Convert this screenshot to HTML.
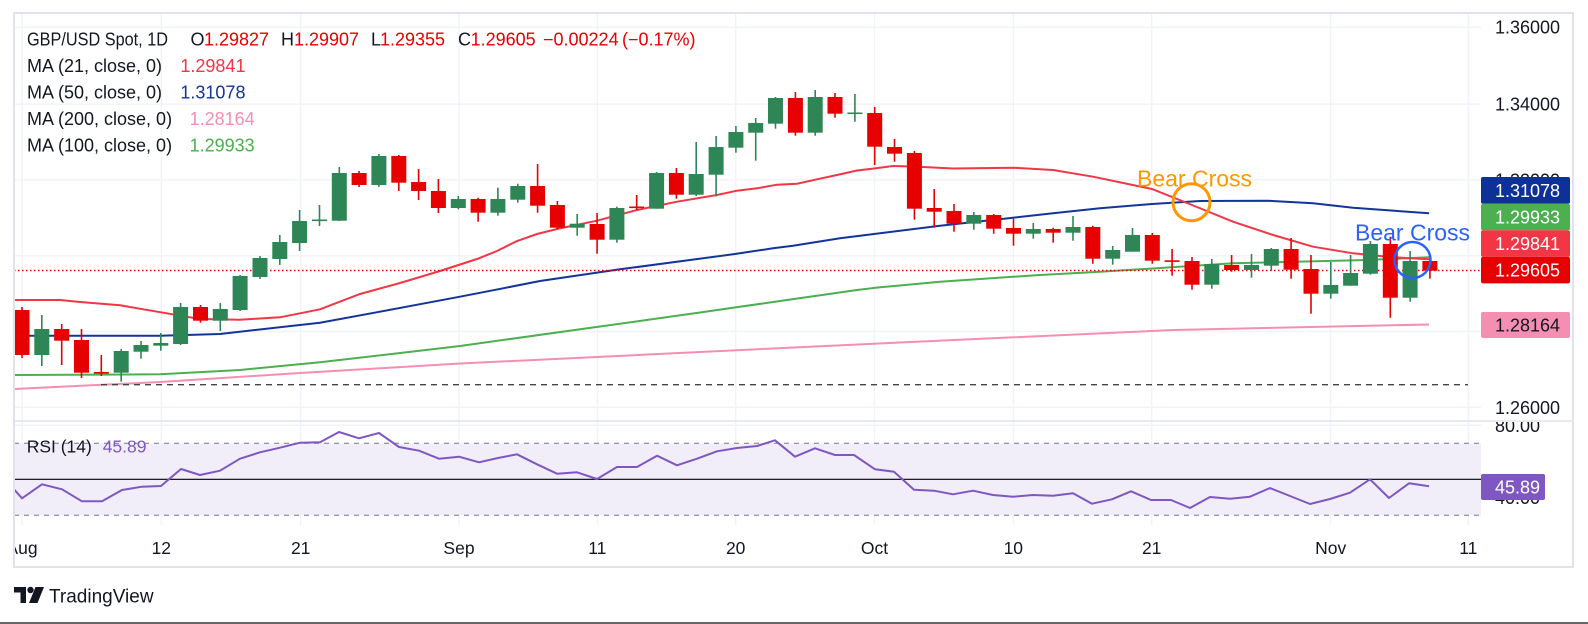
<!DOCTYPE html>
<html>
<head>
<meta charset="utf-8">
<style>
html,body{margin:0;padding:0;background:#fff;}
svg{display:block;}
text{font-family:"Liberation Sans",Arial,sans-serif;}
</style>
</head>
<body>
<svg width="1588" height="624" viewBox="0 0 1588 624" xmlns="http://www.w3.org/2000/svg">
<defs>
<clipPath id="mainclip"><rect x="14" y="13" width="1467" height="408"/></clipPath>
<clipPath id="rsiclip"><rect x="14" y="421" width="1467" height="104"/></clipPath>
<clipPath id="timeclip"><rect x="15" y="525" width="1558" height="42"/></clipPath>
<clipPath id="rsiaxis"><rect x="1481" y="422" width="92" height="103"/></clipPath>
</defs>
<rect width="1588" height="624" fill="#fff"/>

<!-- horizontal grid main -->
<g stroke="#f0f3fa" stroke-width="1.5">
<line x1="14" y1="27.2" x2="1481" y2="27.2"/>
<line x1="14" y1="104.1" x2="1481" y2="104.1"/>
<line x1="14" y1="179.9" x2="1481" y2="179.9"/>
<line x1="14" y1="255.7" x2="1481" y2="255.7"/>
<line x1="14" y1="331.5" x2="1481" y2="331.5"/>
<line x1="14" y1="407.3" x2="1481" y2="407.3"/>
<line x1="14" y1="425.3" x2="1481" y2="425.3"/>
<line x1="14" y1="497.3" x2="1481" y2="497.3"/>
</g>
<!-- vertical grid -->
<g stroke="#f0f3fa" stroke-width="1.5">
<line x1="22" y1="13" x2="22" y2="525"/>
<line x1="161.3" y1="13" x2="161.3" y2="525"/>
<line x1="300.7" y1="13" x2="300.7" y2="525"/>
<line x1="459" y1="13" x2="459" y2="525"/>
<line x1="597.3" y1="13" x2="597.3" y2="525"/>
<line x1="735.7" y1="13" x2="735.7" y2="525"/>
<line x1="874.5" y1="13" x2="874.5" y2="525"/>
<line x1="1013.3" y1="13" x2="1013.3" y2="525"/>
<line x1="1151.7" y1="13" x2="1151.7" y2="525"/>
<line x1="1330.7" y1="13" x2="1330.7" y2="525"/>
<line x1="1468.3" y1="13" x2="1468.3" y2="525"/>
</g>

<!-- main pane -->
<g clip-path="url(#mainclip)">
<polyline fill="none" stroke="#f48fb1" stroke-width="2" points="14,389 160,382 300,373 460,363.5 700,352 900,342.5 1173,330 1429,324.5"/>
<polyline fill="none" stroke="#4caf50" stroke-width="2" points="14,375 160,374.3 240,370 320,362.3 460,346 600,326.5 700,312.5 780,301 857,290 880,287.3 940,281.7 1040,275 1100,271.7 1140,269.3 1233,263.3 1367,260 1429,257.3"/>
<polyline fill="none" stroke="#12349b" stroke-width="2" points="14,335.7 100,335.7 160,335.7 220,334 320,322.7 380,311.7 460,296.7 498,289.3 540,281 620,269.3 733,254.3 773,248.3 793,245.7 840,238.2 874,234 940,225.7 1013,217.7 1053,213.3 1100,208.3 1152,204 1200,201 1267,200.7 1313,203.3 1353,207.7 1429,213.3"/>
<polyline fill="none" stroke="#f23645" stroke-width="2" points="14,300 60,300 80,302 120,305.3 161,312.3 200,319 240,319.7 280,317.3 320,309.3 360,294 400,283 440,271 477,259 497,251 517,241 537,234 557,229 597,220.7 637,210 677,201.7 717,195 737,190.7 757,188.3 777,184.7 797,183.7 817,179.3 837,175 857,170.5 874,168.5 893,166 913,166.5 953,168.5 1013,167.7 1053,170 1093,176.7 1140,186.5 1152,189 1192,205 1233,221.7 1273,235 1313,246.7 1353,253.3 1393,257.3 1429,259.3"/>
<line x1="101" y1="384.7" x2="1468" y2="384.7" stroke="#444" stroke-width="1.4" stroke-dasharray="6 5"/>
<line x1="14" y1="270.5" x2="1481" y2="270.5" stroke="#e60000" stroke-width="1.5" stroke-dasharray="1.5 2.5"/>

<g stroke="#e60000" stroke-width="1.6">
<line x1="22.0" y1="307" x2="22.0" y2="358"/>
<line x1="61.7" y1="324" x2="61.7" y2="365"/>
<line x1="81.5" y1="329" x2="81.5" y2="378"/>
<line x1="101.3" y1="355" x2="101.3" y2="376"/>
<line x1="200.5" y1="305" x2="200.5" y2="322.7"/>
<line x1="359.1" y1="171" x2="359.1" y2="187"/>
<line x1="398.8" y1="155" x2="398.8" y2="191"/>
<line x1="418.6" y1="169" x2="418.6" y2="200"/>
<line x1="438.4" y1="179" x2="438.4" y2="213"/>
<line x1="478.1" y1="197.7" x2="478.1" y2="221.7"/>
<line x1="537.6" y1="164" x2="537.6" y2="212.7"/>
<line x1="557.4" y1="201" x2="557.4" y2="229.3"/>
<line x1="597.1" y1="213" x2="597.1" y2="253.7"/>
<line x1="636.7" y1="195" x2="636.7" y2="210.3"/>
<line x1="676.4" y1="168" x2="676.4" y2="198.7"/>
<line x1="795.4" y1="92" x2="795.4" y2="135.7"/>
<line x1="835.0" y1="93" x2="835.0" y2="117.7"/>
<line x1="874.7" y1="107" x2="874.7" y2="165"/>
<line x1="894.5" y1="139" x2="894.5" y2="161.7"/>
<line x1="914.4" y1="151" x2="914.4" y2="219.7"/>
<line x1="934.2" y1="189" x2="934.2" y2="227.7"/>
<line x1="954.0" y1="204" x2="954.0" y2="231.7"/>
<line x1="993.7" y1="214" x2="993.7" y2="233.7"/>
<line x1="1013.5" y1="218.7" x2="1013.5" y2="245.7"/>
<line x1="1053.2" y1="227.7" x2="1053.2" y2="242.7"/>
<line x1="1092.8" y1="225.7" x2="1092.8" y2="263.7"/>
<line x1="1152.3" y1="233" x2="1152.3" y2="263.7"/>
<line x1="1172.1" y1="249" x2="1172.1" y2="275.7"/>
<line x1="1192.0" y1="257" x2="1192.0" y2="289.7"/>
<line x1="1231.6" y1="255" x2="1231.6" y2="271.7"/>
<line x1="1291.1" y1="238" x2="1291.1" y2="278.7"/>
<line x1="1311.0" y1="255" x2="1311.0" y2="313.7"/>
<line x1="1390.3" y1="236.7" x2="1390.3" y2="317.7"/>
<line x1="1429.9" y1="259" x2="1429.9" y2="278.7"/>
</g>
<g fill="#e60000">
<rect x="14.5" y="310" width="15" height="45"/>
<rect x="54.2" y="329" width="15" height="11.7"/>
<rect x="74.0" y="340" width="15" height="32.7"/>
<rect x="93.8" y="372" width="15" height="1.6"/>
<rect x="193.0" y="307" width="15" height="13.7"/>
<rect x="351.6" y="173" width="15" height="12"/>
<rect x="391.3" y="156" width="15" height="26.7"/>
<rect x="411.1" y="182" width="15" height="9"/>
<rect x="430.9" y="191" width="15" height="17"/>
<rect x="470.6" y="199" width="15" height="13.7"/>
<rect x="530.1" y="186" width="15" height="19.7"/>
<rect x="549.9" y="205" width="15" height="22.7"/>
<rect x="589.6" y="224" width="15" height="15.7"/>
<rect x="629.2" y="206.5" width="15" height="1.6"/>
<rect x="668.9" y="173" width="15" height="21.7"/>
<rect x="787.9" y="98" width="15" height="34.7"/>
<rect x="827.5" y="97" width="15" height="16.7"/>
<rect x="867.2" y="113" width="15" height="33.7"/>
<rect x="887.0" y="147" width="15" height="6.7"/>
<rect x="906.9" y="153" width="15" height="55.7"/>
<rect x="926.7" y="208" width="15" height="3.7"/>
<rect x="946.5" y="211" width="15" height="12.7"/>
<rect x="986.2" y="215" width="15" height="13.7"/>
<rect x="1006.0" y="228" width="15" height="5.7"/>
<rect x="1045.7" y="229" width="15" height="3.7"/>
<rect x="1085.3" y="227" width="15" height="31.7"/>
<rect x="1144.8" y="235" width="15" height="25.7"/>
<rect x="1164.6" y="260.3" width="15" height="1.6"/>
<rect x="1184.5" y="261" width="15" height="23.7"/>
<rect x="1224.1" y="265" width="15" height="5"/>
<rect x="1283.6" y="249" width="15" height="20.7"/>
<rect x="1303.5" y="269" width="15" height="24.7"/>
<rect x="1382.8" y="244" width="15" height="53.7"/>
<rect x="1422.4" y="261" width="15" height="9.7"/>
</g>
<g stroke="#2e8555" stroke-width="1.6">
<line x1="41.8" y1="315" x2="41.8" y2="366"/>
<line x1="121.2" y1="349" x2="121.2" y2="381.7"/>
<line x1="141.0" y1="341" x2="141.0" y2="358.7"/>
<line x1="160.8" y1="333" x2="160.8" y2="350.7"/>
<line x1="180.6" y1="303" x2="180.6" y2="345"/>
<line x1="220.3" y1="303" x2="220.3" y2="331"/>
<line x1="240.1" y1="275" x2="240.1" y2="311"/>
<line x1="260.0" y1="256" x2="260.0" y2="279"/>
<line x1="279.8" y1="235" x2="279.8" y2="265"/>
<line x1="299.6" y1="210" x2="299.6" y2="251"/>
<line x1="319.5" y1="205" x2="319.5" y2="226"/>
<line x1="339.3" y1="167" x2="339.3" y2="221"/>
<line x1="378.9" y1="154" x2="378.9" y2="187"/>
<line x1="458.3" y1="196" x2="458.3" y2="209.3"/>
<line x1="497.9" y1="187.7" x2="497.9" y2="215.7"/>
<line x1="517.8" y1="183.7" x2="517.8" y2="202.7"/>
<line x1="577.2" y1="214" x2="577.2" y2="235.7"/>
<line x1="616.9" y1="206.7" x2="616.9" y2="242.7"/>
<line x1="656.6" y1="172" x2="656.6" y2="208.7"/>
<line x1="696.2" y1="142" x2="696.2" y2="196"/>
<line x1="716.1" y1="136" x2="716.1" y2="196.3"/>
<line x1="735.9" y1="126" x2="735.9" y2="152.7"/>
<line x1="755.7" y1="118" x2="755.7" y2="160.7"/>
<line x1="775.5" y1="97" x2="775.5" y2="128.7"/>
<line x1="815.2" y1="90" x2="815.2" y2="135.7"/>
<line x1="854.9" y1="94" x2="854.9" y2="121.7"/>
<line x1="973.8" y1="212" x2="973.8" y2="229.7"/>
<line x1="1033.3" y1="223" x2="1033.3" y2="238.7"/>
<line x1="1073.0" y1="216" x2="1073.0" y2="240.7"/>
<line x1="1112.7" y1="246" x2="1112.7" y2="264.7"/>
<line x1="1132.5" y1="228" x2="1132.5" y2="251.7"/>
<line x1="1211.8" y1="259" x2="1211.8" y2="288.7"/>
<line x1="1251.5" y1="254" x2="1251.5" y2="277.7"/>
<line x1="1271.3" y1="248" x2="1271.3" y2="270.7"/>
<line x1="1330.8" y1="262" x2="1330.8" y2="298.7"/>
<line x1="1350.6" y1="255" x2="1350.6" y2="285.7"/>
<line x1="1370.4" y1="241" x2="1370.4" y2="274.7"/>
<line x1="1410.1" y1="251" x2="1410.1" y2="301.7"/>
</g>
<g fill="#2e8555">
<rect x="34.3" y="329" width="15" height="26"/>
<rect x="113.7" y="351" width="15" height="21.7"/>
<rect x="133.5" y="345" width="15" height="6.7"/>
<rect x="153.3" y="343" width="15" height="2.7"/>
<rect x="173.1" y="307" width="15" height="37"/>
<rect x="212.8" y="309" width="15" height="11.7"/>
<rect x="232.6" y="276" width="15" height="34"/>
<rect x="252.5" y="258" width="15" height="19"/>
<rect x="272.3" y="242" width="15" height="17"/>
<rect x="292.1" y="221" width="15" height="22"/>
<rect x="312.0" y="219.5" width="15" height="1.6"/>
<rect x="331.8" y="173" width="15" height="47.7"/>
<rect x="371.4" y="156" width="15" height="29"/>
<rect x="450.8" y="199" width="15" height="9"/>
<rect x="490.4" y="199" width="15" height="13.7"/>
<rect x="510.3" y="186" width="15" height="13.7"/>
<rect x="569.7" y="223.7" width="15" height="4"/>
<rect x="609.4" y="208" width="15" height="31.7"/>
<rect x="649.1" y="173" width="15" height="35.7"/>
<rect x="688.7" y="174" width="15" height="20.7"/>
<rect x="708.6" y="147" width="15" height="27.7"/>
<rect x="728.4" y="132" width="15" height="15.7"/>
<rect x="748.2" y="123" width="15" height="9.7"/>
<rect x="768.0" y="98" width="15" height="25.7"/>
<rect x="807.7" y="97" width="15" height="35.7"/>
<rect x="847.4" y="112.5" width="15" height="1.6"/>
<rect x="966.3" y="215" width="15" height="8.7"/>
<rect x="1025.8" y="229" width="15" height="4.7"/>
<rect x="1065.5" y="227" width="15" height="5.7"/>
<rect x="1105.2" y="250" width="15" height="8.7"/>
<rect x="1125.0" y="235" width="15" height="16.7"/>
<rect x="1204.3" y="264" width="15" height="20.7"/>
<rect x="1244.0" y="265" width="15" height="5"/>
<rect x="1263.8" y="249" width="15" height="16.7"/>
<rect x="1323.3" y="285" width="15" height="8.7"/>
<rect x="1343.1" y="273" width="15" height="12.7"/>
<rect x="1362.9" y="244" width="15" height="29.7"/>
<rect x="1402.6" y="261" width="15" height="36.7"/>
</g>

<circle cx="1191.5" cy="202.2" r="18.5" fill="none" stroke="#ff9800" stroke-width="3"/>
<text x="1137" y="186.7" font-size="23" fill="#ff9800">Bear Cross</text>
<circle cx="1412.5" cy="260" r="18" fill="none" stroke="#2962ff" stroke-width="2.5"/>
<text x="1355" y="240.7" font-size="23" fill="#2962ff">Bear Cross</text>
</g>

<!-- RSI pane -->
<g clip-path="url(#rsiclip)">
<rect x="14" y="443.3" width="1467" height="72" fill="#f1edf9"/>
<line x1="14" y1="443.3" x2="1481" y2="443.3" stroke="#787b86" stroke-width="1" stroke-dasharray="5 5"/>
<line x1="14" y1="515.3" x2="1481" y2="515.3" stroke="#787b86" stroke-width="1" stroke-dasharray="5 5"/>
<line x1="14" y1="479.3" x2="1481" y2="479.3" stroke="#000" stroke-width="1.2"/>
<polyline fill="none" stroke="#7e57c2" stroke-width="2" stroke-linejoin="round" points="14,489.3 22,498.3 42,484.3 62,489.3 82,501.3 102,501.3 122,490 142,486.7 161,486 181,469 200,475 220,470.7 240,458.7 260,452.3 280,447.7 300,442.7 320,442.3 339,432 359,438.3 379,433 399,447 419,450.7 439,458.7 459,456.7 479,462.3 498,458 517,454.3 537,464.3 557,473.7 577,472.3 597,479 617,467 637,467 657,455.7 677,465.3 697,458.7 717,451.3 737,448 757,446 775,440.3 795,456.7 815,448.3 835,455 854,455 875,469.3 894,471.7 914,489.7 934,490.7 953,494.3 973,490.7 993,495 1013,496.7 1033,495 1053,495.7 1073,493.3 1092,503.7 1112,499.3 1131,491.3 1151,500 1171,500 1190,508 1210,497 1230,498.7 1250,496.7 1270,488 1290,496 1310,504 1330,499 1350,492.7 1370,479.3 1389,498 1409,483.3 1429,486.3"/>
</g>
<text x="26.7" y="452.7" font-size="17.5" fill="#131722">RSI (14)</text>
<text x="102.7" y="452.7" font-size="17.5" fill="#7e57c2">45.89</text>

<line x1="14" y1="421" x2="1573" y2="421" stroke="#e0e3eb" stroke-width="1.5"/>
<rect x="14" y="13" width="1559" height="554" stroke="#e0e3eb" stroke-width="2" fill="none"/>

<!-- legend -->
<g font-size="18" fill="#131722">
<text x="27" y="45.5" textLength="141" lengthAdjust="spacingAndGlyphs">GBP/USD Spot, 1D</text>
<text x="190.5" y="45.5">O</text><text x="204" y="45.5" fill="#e60000">1.29827</text>
<text x="281" y="45.5">H</text><text x="294" y="45.5" fill="#e60000">1.29907</text>
<text x="371" y="45.5">L</text><text x="380" y="45.5" fill="#e60000">1.29355</text>
<text x="458" y="45.5">C</text><text x="470.6" y="45.5" fill="#e60000">1.29605</text>
<text x="543" y="45.5" fill="#e60000">−0.00224</text>
<text x="622" y="45.5" fill="#e60000">(−0.17%)</text>
<text x="27" y="72">MA (21, close, 0)</text><text x="180.4" y="72" fill="#f23645">1.29841</text>
<text x="27" y="98.3">MA (50, close, 0)</text><text x="180.4" y="98.3" fill="#12349b">1.31078</text>
<text x="27" y="125">MA (200, close, 0)</text><text x="189.6" y="125" fill="#f48fb1">1.28164</text>
<text x="27" y="151.5">MA (100, close, 0)</text><text x="189.6" y="151.5" fill="#4caf50">1.29933</text>
</g>

<!-- price axis -->
<g font-size="18" fill="#131722">
<text x="1495" y="33.7">1.36000</text>
<text x="1495" y="110.5">1.34000</text>
<text x="1495" y="186.3">1.32000</text>
<text x="1495" y="413.8">1.26000</text>
</g>
<g clip-path="url(#rsiaxis)" font-size="18" fill="#131722">
<text x="1495" y="431.8">80.00</text>
<text x="1495" y="503.8">40.00</text>
</g>
<g font-size="18">
<rect x="1481" y="177" width="89" height="26.7" rx="2" fill="#0d3199"/>
<text x="1495" y="196.8" fill="#fff">1.31078</text>
<rect x="1481" y="203.7" width="89" height="26.5" rx="2" fill="#4caf50"/>
<text x="1495" y="223.4" fill="#fff">1.29933</text>
<rect x="1481" y="230.2" width="89" height="26.7" rx="2" fill="#f23645"/>
<text x="1495" y="250.1" fill="#fff">1.29841</text>
<rect x="1481" y="256.9" width="89" height="26.5" rx="2" fill="#e60000"/>
<text x="1495" y="276.7" fill="#fff">1.29605</text>
<rect x="1481" y="312" width="89" height="26" rx="2" fill="#f48fb1"/>
<text x="1495" y="331.4" fill="#131722">1.28164</text>
<rect x="1481" y="474" width="64" height="26" rx="2" fill="#7e57c2"/>
<text x="1495" y="493.4" fill="#fff">45.89</text>
</g>

<!-- time axis -->
<g font-size="17.5" fill="#131722" text-anchor="middle">
<g clip-path="url(#timeclip)"><text x="22" y="554">Aug</text></g>
<text x="161.3" y="554">12</text>
<text x="300.7" y="554">21</text>
<text x="459" y="554">Sep</text>
<text x="597.3" y="554">11</text>
<text x="735.7" y="554">20</text>
<text x="874.5" y="554">Oct</text>
<text x="1013.3" y="554">10</text>
<text x="1151.7" y="554">21</text>
<text x="1330.7" y="554">Nov</text>
<text x="1468.3" y="554">11</text>
</g>

<g fill="#131722">
<path d="M14 587 H26 V603 H20.5 V592.5 H14 Z"/>
<circle cx="30.5" cy="590" r="3.2"/>
<path d="M35.5 587 H44 L37.5 603 H29 Z"/>
</g>
<text x="49" y="602.5" font-size="19" fill="#131722">TradingView</text>

<rect x="0" y="622" width="1588" height="2" fill="#666"/>
</svg>
</body>
</html>
